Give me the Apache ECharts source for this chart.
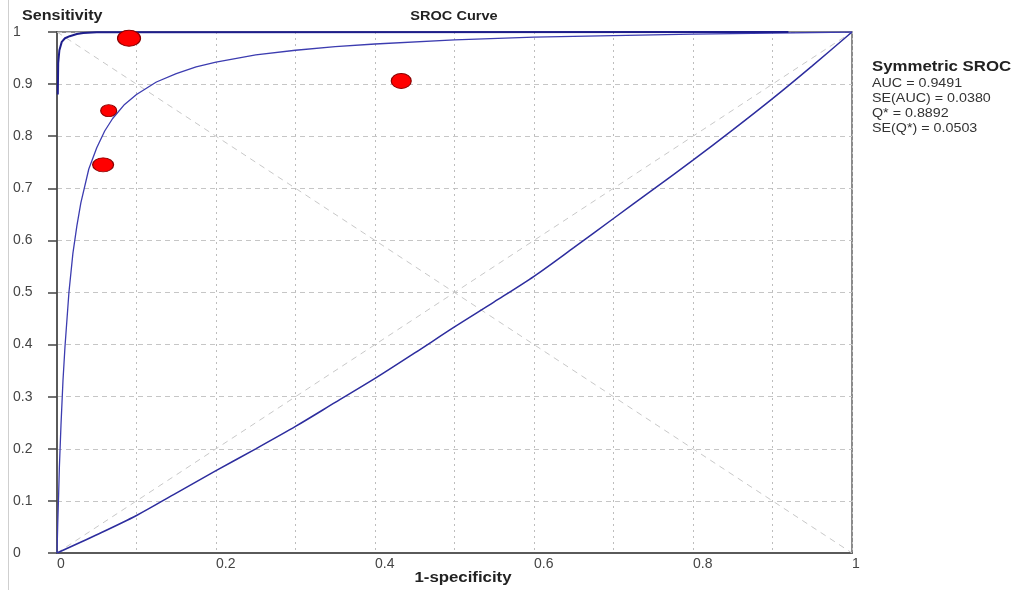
<!DOCTYPE html>
<html>
<head>
<meta charset="utf-8">
<script src="https://cdn.jsdelivr.net/npm/echarts@6/dist/echarts.min.js"></script>
<style>
html,body{margin:0;padding:0;background:#fff;}
#chart{width:1019px;height:590px;}
</style>
</head>
<body>
<div id="chart"></div>
<script>
// ---------- data ----------
const xTickLabels = ['0', '0.2', '0.4', '0.6', '0.8', '1'];
const yTickLabels = ['0', '0.1', '0.2', '0.3', '0.4', '0.5', '0.6', '0.7', '0.8', '0.9', '1'];

// study points: [1-specificity, sensitivity]
const studies = [
  [0.0906, 0.988],
  [0.065, 0.849],
  [0.058, 0.745],
  [0.433, 0.906]
];

// symmetric SROC curve
const srocCurve = [
  [0, 0], [0.001, 0.06], [0.002, 0.11], [0.003, 0.165], [0.005, 0.245], [0.0075, 0.33],
  [0.01, 0.395], [0.015, 0.5], [0.02, 0.575], [0.025, 0.628], [0.03, 0.672], [0.04, 0.737],
  [0.05, 0.778], [0.06, 0.81], [0.07, 0.834], [0.085, 0.861], [0.1, 0.88], [0.125, 0.904],
  [0.15, 0.92], [0.175, 0.933], [0.2, 0.942], [0.25, 0.956], [0.3, 0.965], [0.35, 0.972],
  [0.4, 0.977], [0.5, 0.985], [0.6, 0.99], [0.7, 0.993], [0.8, 0.996], [0.9, 0.998], [1, 1]
];

// lower (convex) curve
const lowerCurve = [
  [0, 0], [0.05, 0.035], [0.1, 0.072], [0.15, 0.115], [0.2, 0.158], [0.25, 0.2], [0.3, 0.243],
  [0.35, 0.289], [0.4, 0.335], [0.45, 0.384], [0.5, 0.434], [0.55, 0.482], [0.6, 0.531],
  [0.65, 0.586], [0.7, 0.642], [0.75, 0.698], [0.8, 0.754], [0.85, 0.812], [0.9, 0.872],
  [0.95, 0.935], [1, 1]
];

// upper curve hugging the top-left corner
const upperCurve = [
  [0.001, 0.88], [0.0015, 0.94], [0.003, 0.965], [0.006, 0.981], [0.01, 0.988],
  [0.016, 0.992], [0.025, 0.996], [0.033, 0.998], [0.05, 0.9995], [0.92, 1]
];

const diagonal = [[0, 0], [1, 1]];
const antiDiagonal = [[0, 1], [1, 0]];

const statTitle = 'Symmetric SROC';
const statLines = ['AUC = 0.9491', 'SE(AUC) = 0.0380', 'Q* = 0.8892', 'SE(Q*) = 0.0503'];

// ---------- styling ----------
const markerSizes = [[23, 16], [16, 12], [21, 14], [20, 15]];
const FONT = 'Liberation Sans';

const chart = echarts.init(document.getElementById('chart'), null, { renderer: 'canvas' });

function txt(x, y, s, size, weight, sx, align, color) {
  return { type: 'text', x: x, y: y, scaleX: sx, z: 100,
    style: { text: s, fontFamily: FONT, fontSize: size, fontWeight: weight, fill: color, align: align, verticalAlign: 'middle' } };
}

const graphics = [
  { type: 'line', shape: { x1: 8.5, y1: 0, x2: 8.5, y2: 590 }, style: { stroke: '#cfcfcf', lineWidth: 1 } },
  txt(22, 16, 'Sensitivity', 14, 'bold', 1.15, 'left', '#222'),
  txt(454, 16, 'SROC Curve', 13, 'bold', 1.12, 'center', '#222'),
  txt(463, 578, '1-specificity', 14, 'bold', 1.2, 'center', '#222'),
  txt(872, 67, statTitle, 14, 'bold', 1.2, 'left', '#222')
];
statLines.forEach(function (t, i) {
  graphics.push(txt(872, 83 + i * 15, t, 13, 'normal', 1.1, 'left', '#333'));
});

const option = {
  animation: false,
  backgroundColor: '#ffffff',
  grid: { left: 57, right: 167, top: 32, bottom: 37, show: true, borderColor: '#666', borderWidth: 1.5, backgroundColor: 'transparent' },
  xAxis: {
    type: 'value', min: 0, max: 1, interval: 0.1,
    axisLine: { show: true, lineStyle: { color: '#5a5a5a', width: 2 } },
    axisTick: { show: false },
    axisLabel: {
      align: 'left', margin: 4, fontSize: 14, color: '#444', fontFamily: FONT,
      showMaxLabel: true, showMinLabel: true, hideOverlap: false,
      formatter: function (v) {
        const i = Math.round(v * 10);
        return i % 2 === 0 ? xTickLabels[i / 2] : '';
      }
    },
    splitLine: { show: true, lineStyle: { color: '#bdbdbd', width: 1, type: [2, 4] } }
  },
  yAxis: {
    type: 'value', min: 0, max: 1, interval: 0.1,
    axisLine: { show: true, lineStyle: { color: '#5a5a5a', width: 2 } },
    axisTick: { show: true, length: 9, lineStyle: { color: '#444', width: 1.5 } },
    axisLabel: {
      align: 'left', margin: 44, fontSize: 14, color: '#444', fontFamily: FONT,
      showMaxLabel: true, showMinLabel: true,
      formatter: function (v) { return yTickLabels[Math.round(v * 10)]; }
    },
    splitLine: { show: true, lineStyle: { color: '#c6c6c6', width: 1, type: [5, 4] } }
  },
  series: [
    { type: 'line', data: diagonal, symbol: 'none', silent: true, z: 2,
      lineStyle: { color: '#c8c8c8', width: 1, type: [6, 5] } },
    { type: 'line', data: antiDiagonal, symbol: 'none', silent: true, z: 2,
      lineStyle: { color: '#c8c8c8', width: 1, type: [6, 5] } },
    { type: 'line', data: lowerCurve, symbol: 'none', smooth: 0.3, z: 3,
      lineStyle: { color: '#2d2d9e', width: 1.5 } },
    { type: 'line', data: srocCurve, symbol: 'none', z: 3,
      lineStyle: { color: '#3c3cb0', width: 1.3 } },
    { type: 'line', data: upperCurve, symbol: 'none', z: 4,
      lineStyle: { color: '#1e1e8c', width: 2 } },
    { type: 'scatter', data: studies, z: 6,
      symbol: 'circle',
      symbolSize: function (val, params) { return markerSizes[params.dataIndex]; },
      itemStyle: { color: '#ff0000', borderColor: '#8a0000', borderWidth: 1, opacity: 1 } }
  ],
  graphic: graphics
};
chart.setOption(option);
</script>
</body>
</html>
